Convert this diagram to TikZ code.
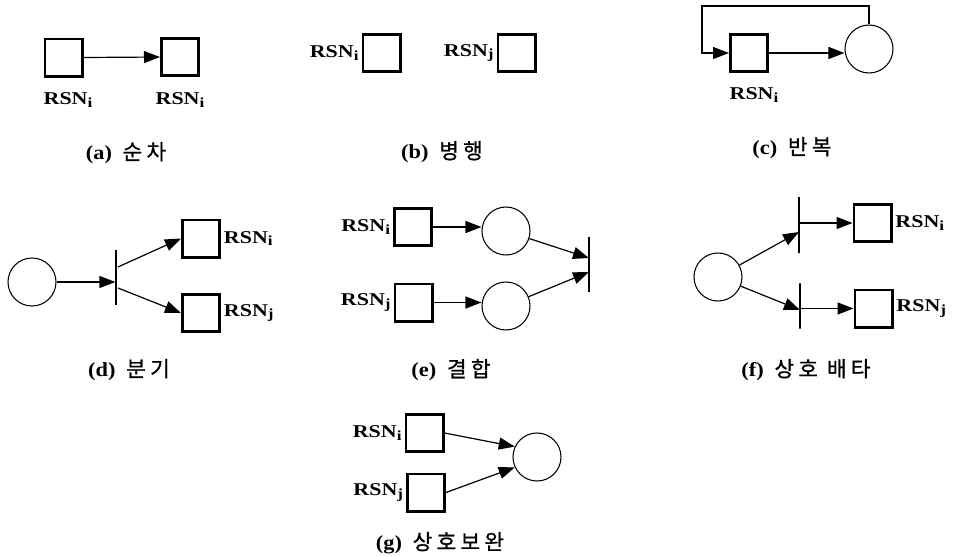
\documentclass[tikz,border=0pt]{standalone}
\usepackage{fontspec}
\usepackage{graphicx}
\usetikzlibrary{arrows.meta}
\setmainfont{Liberation Serif}
\newfontfamily\lblfont{Liberation Serif Bold}
\newfontfamily\capfont{Liberation Serif Bold}
\newfontfamily\kr[LetterSpace=20,FakeBold=0.8]{Noto Sans CJK KR}
\newcommand\rsn[1]{\scalebox{1.22}[1]{RSN\raisebox{-0.35ex}{\fontsize{10.5}{11}\selectfont #1}}}
\newcommand\capt[2]{\scalebox{1.12}[1]{\capfont\fontsize{15}{17}\selectfont(#1)}\hspace{8pt}{\kr\fontsize{16}{18}\selectfont #2}}
\tikzset{
  box/.style={draw, line width=2pt, minimum size=28pt, inner sep=0pt},
  petri/.style={draw, circle, line width=0.8pt, minimum size=36pt, inner sep=0pt},
  bar/.style={draw, line width=0.9pt, minimum width=0pt, inner sep=0pt},
  arr/.style={line width=0.9pt, -{Triangle[length=12pt,width=9pt]}},
  lbl/.style={font=\lblfont\fontsize{13.5}{15}\selectfont, inner sep=2pt},
  captxt/.style={inner sep=0pt}
}
\begin{document}
\begin{tikzpicture}[x=0.75pt,y=-0.75pt]
\useasboundingbox (0,0) rectangle (954,557);
% (a)
\node[box] (a1) at (63.5,57.5) {};
\node[box] (a2) at (180,57) {};
\draw[arr] (a1.east) -- (a2.west);
\node[lbl] (la1) at (68,100) {\rsn{i}};
\node[lbl] (la2) at (180,100) {\rsn{i}};
\node[captxt] (ca) at (126,153) {\capt{a}{순차}};
% (b)
\node[box] (b1) at (381.5,53) {};
\node[box] (b2) at (516.5,53) {};
\node[lbl, anchor=east] (lb1) at (b1.west) {\rsn{i}};
\node[lbl, anchor=east] (lb2) at (b2.west) {\rsn{j}};
\node[captxt] (cb) at (442,152) {\capt{b}{병행}};
% (c)
\node[box] (c1) at (749,53) {};
\node[petri] (cc) at (869,49) {};
\coordinate (cl) at (702,6);
\draw[arr] (c1.east) -- (c1.east -| cc.west);
\draw[arr] (cc.north) |- (cl) |- (c1.west);
\node[lbl] (lc1) at (754,95) {\rsn{i}};
\node[captxt] (cpc) at (792,148) {\capt{c}{반복}};
% (d)
\node[petri] (dc) at (32,282) {};
\node[bar, minimum height=41pt] (db) at (116,277.5) {};
\node[box] (d1) at (201,238.5) {};
\node[box] (d2) at (201,313) {};
\coordinate (ds1) at (118,267);
\coordinate (ds2) at (118,288);
\draw[arr] (dc.east) -- (dc.east -| db.west);
\draw[arr] (ds1) -- (d1.west);
\draw[arr] (ds2) -- (d2.west);
\node[lbl, anchor=west] (ld1) at (d1.east) {\rsn{i}};
\node[lbl, anchor=west] (ld2) at (d2.east) {\rsn{j}};
\node[captxt] (cd) at (129,370) {\capt{d}{분기}};
% (e)
\node[box] (e1) at (413,227) {};
\node[box] (e2) at (413.5,302.5) {};
\node[petri] (ec1) at (506,231) {};
\node[petri] (ec2) at (506,306) {};
\node[bar, minimum height=41pt] (eb) at (589,264.5) {};
\coordinate (et1) at (589,258);
\coordinate (et2) at (589,272);
\draw[arr] (e1.east) -- (e1.east -| ec1.west);
\draw[arr] (e2.east) -- (e2.east -| ec2.west);
\draw[arr] (ec1) -- (et1);
\draw[arr] (ec2) -- (et2);
\node[lbl, anchor=east] (le1) at (e1.west) {\rsn{i}};
\node[lbl, anchor=east] (le2) at (e2.west) {\rsn{j}};
\node[captxt] (ce) at (451,370) {\capt{e}{결합}};
% (f)
\node[petri] (fc) at (718,277) {};
\node[bar, minimum height=42pt] (fb1) at (799,225) {};
\node[bar, minimum height=34pt] (fb2) at (800,306) {};
\node[box] (f1) at (872.5,223) {};
\node[box] (f2) at (873.5,308.5) {};
\coordinate (ft1) at (799,232);
\coordinate (ft2) at (800,310);
\draw[arr] (fc) -- (ft1);
\draw[arr] (fc) -- (ft2);
\draw[arr] (f1.west -| fb1.east) -- (f1.west);
\draw[arr] (f2.west -| fb2.east) -- (f2.west);
\node[lbl, anchor=west] (lf1) at (f1.east) {\rsn{i}};
\node[lbl, anchor=west] (lf2) at (f2.east) {\rsn{j}};
\node[captxt] (cf) at (806,370) {\capt{f}{상호 배타}};
% (g)
\node[box] (g1) at (424.5,433) {};
\node[box] (g2) at (426,492.5) {};
\node[petri] (gc) at (537,457) {};
\draw[arr] (g1.east) -- (gc.155);
\draw[arr] (g2.east) -- (gc.205);
\node[lbl, anchor=east] (lg1) at (g1.west) {\rsn{i}};
\node[lbl, anchor=east] (lg2) at (g2.west) {\rsn{j}};
\node[captxt] (cg) at (440,543) {\capt{g}{상호보완}};
\end{tikzpicture}
\end{document}
